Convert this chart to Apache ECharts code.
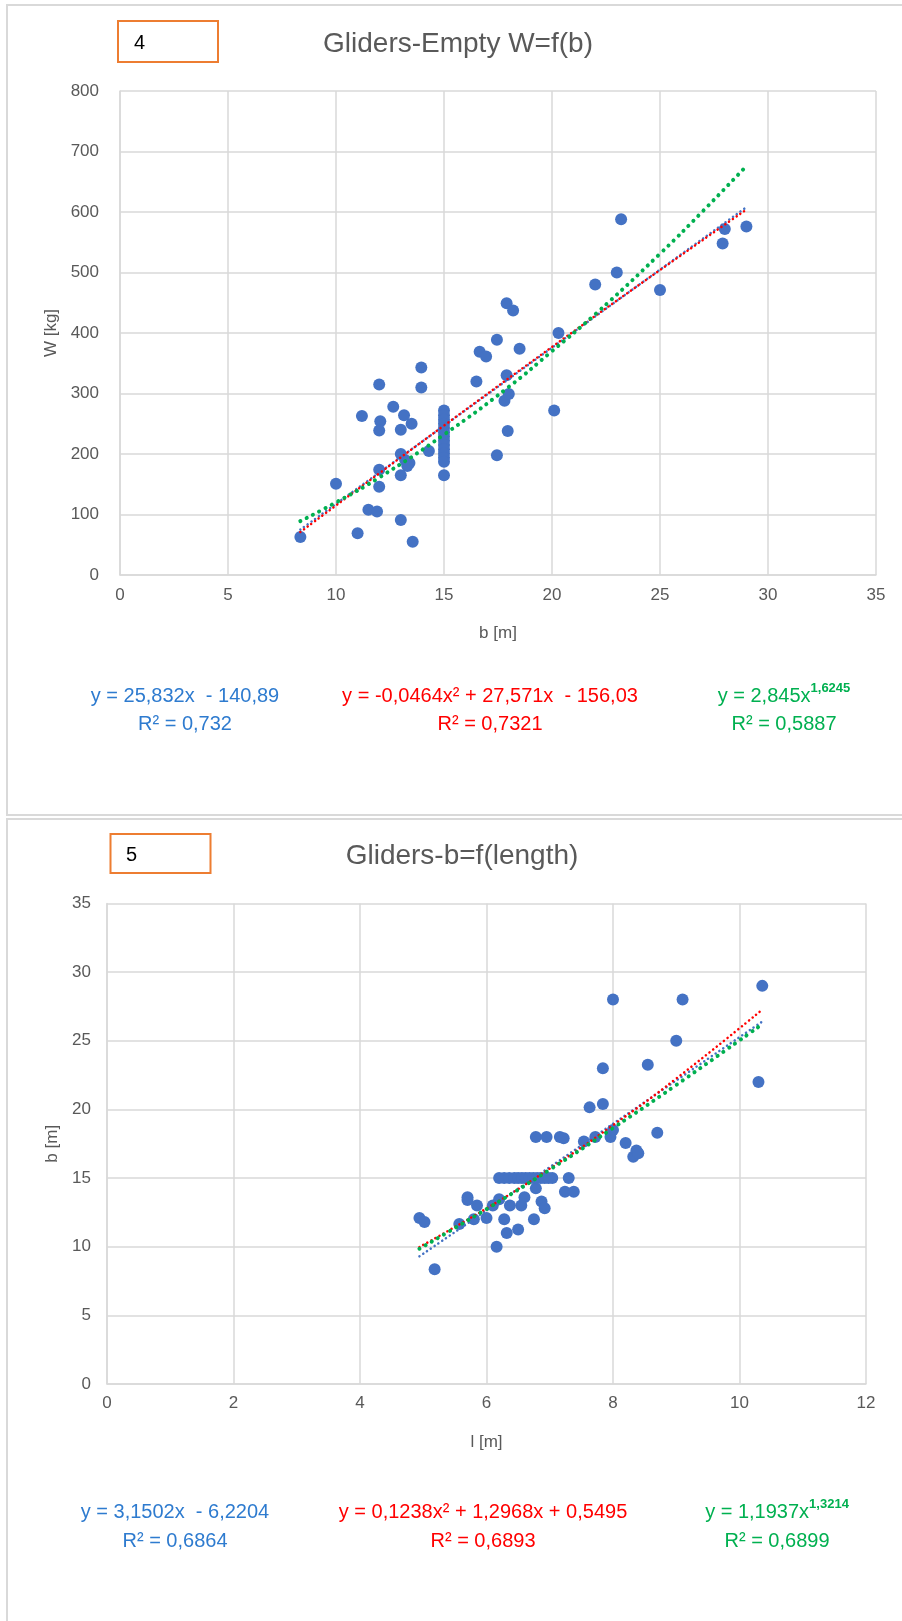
<!DOCTYPE html>
<html>
<head>
<meta charset="utf-8">
<script src="https://cdn.jsdelivr.net/npm/echarts@6/dist/echarts.min.js"></script>
<style>
  html, body { margin: 0; padding: 0; background: #fff; }
  #chart { width: 902px; height: 1621px; }
</style>
</head>
<body>
<div id="chart"></div>
<script>
// chart 4: empty weight W [kg] vs wingspan b [m]
const span4 = [8.35, 10, 11, 11.2, 11.5, 11.9, 12, 12.05, 12, 12, 12, 12.65, 13.15, 13, 13.5,
  13, 13.2, 13.4, 13.3, 13, 13, 13.55, 13.95, 13.95, 14.3,
  15, 15, 15, 15, 15, 15, 15, 15, 15, 15, 15, 15, 15, 15,
  16.5, 16.65, 16.95, 17.45, 17.45, 17.8, 17.9, 17.9, 17.95, 18, 18.2, 18.5,
  20.1, 20.3, 22, 23, 23.2, 25, 27.9, 28, 29]
const weight4 = [63, 151, 69, 263, 108, 105, 315, 254, 239, 174, 146, 278, 264, 240, 250,
  200, 190, 185, 180, 165, 91, 55, 343, 310, 205,
  272, 264, 257, 250, 243, 236, 229, 222, 215, 208, 201, 194, 187, 165,
  320, 369, 361, 389, 198, 288, 449, 330, 238, 299, 437, 374,
  272, 400, 480, 500, 588, 471, 548, 572, 576]
// trendlines of chart 4
const linX4 = [8.35, 29]
const linY4 = [75, 608]
const polyX4 = [8.35, 12, 15, 20, 25, 29]
const polyY4 = [71, 168, 247, 377, 504, 604]
const powX4 = [8.35, 10, 12, 15, 18, 20, 22, 25, 27, 29]
const powY4 = [89, 120, 161, 232, 311, 370, 431, 531, 602, 676]

// chart 5: wingspan b [m] vs length l [m]
const len5 = [4.94, 5.02, 5.18, 5.57, 5.7, 5.7, 5.8, 5.85, 6.0, 6.1, 6.16, 6.2, 6.28, 6.32, 6.37,
  6.5, 6.55, 6.6, 6.75, 6.78, 6.87, 6.92,
  6.2, 6.28, 6.36, 6.44, 6.5, 6.56, 6.62, 6.68, 6.74, 6.8, 6.86, 6.92, 6.98, 7.04, 7.3,
  7.24, 7.38, 6.78, 6.95, 7.16, 7.22, 7.54, 7.63, 7.72, 7.84, 7.84, 7.96, 8.0, 8.0,
  8.2, 8.32, 8.37, 8.4, 8.55, 8.7, 9.0, 9.1, 10.3, 10.36]
const span5 = [12.1, 11.8, 8.35, 11.65, 13.6, 13.4, 12, 13, 12.1, 13, 10, 13.45, 12, 11, 13,
  11.25, 13, 13.6, 12, 14.25, 13.3, 12.8,
  15, 15, 15, 15, 15, 15, 15, 15, 15, 15, 15, 15, 15, 15, 15,
  14, 14, 18, 18, 18, 17.9, 17.67, 20.15, 18, 20.4, 23, 18, 18.5, 28,
  17.55, 16.55, 17, 16.8, 23.25, 18.3, 25, 28, 22, 29]
const linX5 = [4.94, 10.36]
const linY5 = [9.3, 26.4]
const polyX5 = [4.94, 6, 7, 8, 9, 10.36]
const polyY5 = [9.98, 12.79, 15.69, 18.85, 22.25, 27.27]
const powX5 = [4.94, 6, 7, 8, 9, 10.36]
const powY5 = [9.85, 12.74, 15.61, 18.64, 21.78, 26.21]

const xTicks4 = { min: 0, max: 35, interval: 5 }
const yTicks4 = { min: 0, max: 800, interval: 100 }
const xTicks5 = { min: 0, max: 12, interval: 2 }
const yTicks5 = { min: 0, max: 35, interval: 5 }

const font = 'Liberation Sans, Arial, sans-serif'
const gridColor = '#d9d9d9'
const labelColor = '#595959'
const blue = '#2E7BCF'
const red = '#FF0000'
const green = '#00B050'

function zip (xs, ys) {
  return xs.map((x, i) => [x, ys[i]])
}

function axis (ticks, name, gridIndex, nameGap, margin, isY) {
  return {
    type: 'value',
    gridIndex: gridIndex,
    min: ticks.min,
    max: ticks.max,
    interval: ticks.interval,
    name: name,
    nameLocation: 'middle',
    nameGap: nameGap,
    nameTextStyle: { color: labelColor, fontSize: 17, fontFamily: font },
    axisLine: { show: true, lineStyle: { color: gridColor, width: 1.5 } },
    axisTick: { show: false },
    axisLabel: { color: labelColor, fontSize: 17, fontFamily: font, margin: margin },
    splitLine: { show: true, lineStyle: { color: gridColor, width: 1.5 } }
  }
}

function trend (xs, ys, idx, color, width, dash) {
  return {
    type: 'line',
    xAxisIndex: idx,
    yAxisIndex: idx,
    data: zip(xs, ys),
    smooth: true,
    symbol: 'none',
    silent: true,
    lineStyle: { color: color, width: width, type: dash, cap: 'round' },
    z: 3
  }
}

function eqText (x, y, lines, color, lh) {
  return {
    type: 'text',
    x: x,
    y: y,
    z: 10,
    style: {
      text: lines,
      align: 'center',
      verticalAlign: 'middle',
      rich: {
        a: { fontSize: 20, fontFamily: font, fill: color, lineHeight: lh },
        s: { fontSize: 13, fontWeight: 'bold', fontFamily: font, fill: color, lineHeight: lh, verticalAlign: 'top', padding: [0, 0, 10, 0] }
      }
    }
  }
}

const myChart = echarts.init(document.getElementById('chart'))
const option = {
  backgroundColor: '#fff',
  animation: false,
  grid: [
    { left: 120, top: 91, width: 756, height: 484 },
    { left: 107, top: 903.5, width: 759, height: 480.5 }
  ],
  xAxis: [
    axis(xTicks4, 'b [m]', 0, 50, 12, false),
    axis(xTicks5, 'l [m]', 1, 50, 11, false)
  ],
  yAxis: [
    axis(yTicks4, 'W [kg]', 0, 31, 21, true),
    axis(yTicks5, 'b [m]', 1, 29, 16, true)
  ],
  series: [
    {
      type: 'scatter',
      xAxisIndex: 0,
      yAxisIndex: 0,
      data: zip(span4, weight4),
      symbolSize: 12,
      itemStyle: { color: '#4472C4', opacity: 1 },
      z: 2
    },
    trend(linX4, linY4, 0, '#4472C4', 2.5, [0.1, 4.5]),
    trend(polyX4, polyY4, 0, red, 2.5, [0.1, 4.5]),
    trend(powX4, powY4, 0, green, 4, [0.1, 7]),
    {
      type: 'scatter',
      xAxisIndex: 1,
      yAxisIndex: 1,
      data: zip(len5, span5),
      symbolSize: 12,
      itemStyle: { color: '#4472C4', opacity: 1 },
      z: 2
    },
    trend(linX5, linY5, 1, '#4472C4', 2.5, [0.1, 4.5]),
    trend(polyX5, polyY5, 1, red, 2.5, [0.1, 4.5]),
    trend(powX5, powY5, 1, green, 4, [0.1, 7])
  ],
  graphic: [
    { type: 'rect', shape: { x: 7, y: 5, width: 930, height: 810 }, style: { fill: 'none', stroke: gridColor, lineWidth: 2 }, z: 0 },
    { type: 'rect', shape: { x: 7, y: 819, width: 930, height: 900 }, style: { fill: 'none', stroke: gridColor, lineWidth: 2 }, z: 0 },
    { type: 'rect', shape: { x: 118, y: 21, width: 100, height: 41 }, style: { fill: '#fff', stroke: '#ED7D31', lineWidth: 2 }, z: 10 },
    { type: 'text', x: 134, y: 43, z: 11, style: { text: '4', fontSize: 20, fontFamily: font, fill: '#000', verticalAlign: 'middle' } },
    { type: 'rect', shape: { x: 110.5, y: 834, width: 100, height: 39 }, style: { fill: '#fff', stroke: '#ED7D31', lineWidth: 2 }, z: 10 },
    { type: 'text', x: 126, y: 855, z: 11, style: { text: '5', fontSize: 20, fontFamily: font, fill: '#000', verticalAlign: 'middle' } },
    { type: 'text', x: 458, y: 44, z: 10, style: { text: 'Gliders-Empty W=f(b)', fontSize: 28, fontFamily: font, fill: labelColor, align: 'center', verticalAlign: 'middle' } },
    { type: 'text', x: 462, y: 856, z: 10, style: { text: 'Gliders-b=f(length)', fontSize: 28, fontFamily: font, fill: labelColor, align: 'center', verticalAlign: 'middle' } },
    eqText(185, 710, '{a|y = 25,832x  - 140,89}\n{a|R² = 0,732}', blue, 28),
    eqText(490, 710, '{a|y = -0,0464x² + 27,571x  - 156,03}\n{a|R² = 0,7321}', red, 28),
    eqText(784, 710, '{a|y = 2,845x}{s|1,6245}\n{a|R² = 0,5887}', green, 28),
    eqText(175, 1527, '{a|y = 3,1502x  - 6,2204}\n{a|R² = 0,6864}', blue, 29),
    eqText(483, 1527, '{a|y = 0,1238x² + 1,2968x + 0,5495}\n{a|R² = 0,6893}', red, 29),
    eqText(777, 1527, '{a|y = 1,1937x}{s|1,3214}\n{a|R² = 0,6899}', green, 29)
  ]
}
myChart.setOption(option)
</script>
</body>
</html>
